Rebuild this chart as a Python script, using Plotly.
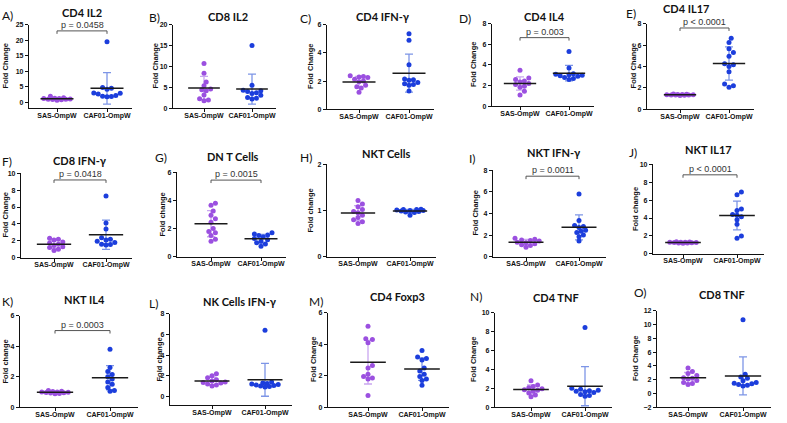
import numpy as np
import plotly.graph_objects as go

W, H = 787, 423
groups = ["SAS-OmpW", "CAF01-OmpW"]

letters = ["A)", "B)", "C)", "D)", "E)", "F)", "G)", "H)", "I)", "J)", "K)", "L)", "M)", "N)", "O)"]
titles = ["CD4 IL2", "CD8 IL2", "CD4 IFN-γ", "CD4 IL4", "CD4 IL17",
          "CD8 IFN-γ", "DN T Cells", "NKT Cells", "NKT IFN-γ", "NKT IL17",
          "NKT IL4", "NK Cells IFN-γ", "CD4 Foxp3", "CD4 TNF", "CD8 TNF"]
ylabels = ["Fold Change", "Fold Change", "Fold Change", "Fold Change", "Fold Change",
           "Fold Change", "Fold change", "Fold change", "Fold Change", "Fold change",
           "Fold change", "Fold change", "Fold Change", "Fold Change", "Fold Change"]
pvalues = ["p = 0.0458", None, None, "p = 0.003", "p < 0.0001",
           "p = 0.0418", "p = 0.0015", None, "p = 0.0011", "p < 0.0001",
           "p = 0.0003", None, None, None, None]

# y axis ranges and tick steps
y_ranges = [[-1.9, 25], [0, 20], [0, 6], [0, 8], [0, 8],
            [0, 10], [0, 6], [0, 2], [0, 8], [0, 10],
            [0, 6], [-0.86, 8], [0, 6], [0, 10], [-2, 12]]
y_dticks = [5, 5, 2, 2, 2, 2, 2, 1, 2, 2, 2, 2, 2, 2, 2]

# values (fold change)
a_sas = [2.0, 1.5, 1.3, 1.2, 1.2, 1.1, 1.0, 1.0, 0.9, 0.8, 0.7]
a_caf = [19.5, 4.8, 4.5, 4.2, 3.0, 2.9, 2.7, 2.2, 2.0, 1.9, 1.8]
b_sas = [10.7, 8.4, 6.3, 5.4, 4.6, 4.4, 4.2, 3.2, 2.3, 2.0, 1.8]
b_caf = [15.0, 5.5, 4.3, 4.2, 4.0, 3.7, 3.5, 3.1, 2.6, 2.4, 2.2]
c_sas = [2.38, 2.32, 2.28, 2.25, 2.12, 2.0, 1.95, 1.7, 1.6, 1.5, 1.2]
c_caf = [5.35, 4.9, 3.15, 2.15, 2.1, 2.05, 1.9, 1.8, 1.75, 1.7, 1.3]
d_sas = [3.5, 2.75, 2.6, 2.45, 2.35, 2.2, 2.1, 1.95, 1.85, 1.45, 1.1]
d_caf = [5.3, 3.7, 3.15, 3.1, 3.05, 3.0, 2.95, 2.9, 2.8, 2.7, 2.6]
e_sas = [1.42, 1.4, 1.38, 1.38, 1.36, 1.35, 1.34, 1.33, 1.32, 1.3, 1.28]
e_caf = [6.65, 6.25, 5.65, 5.3, 4.95, 4.25, 4.15, 4.0, 3.5, 2.35, 2.2, 2.05]
f_sas = [2.3, 2.2, 2.1, 1.85, 1.75, 1.6, 1.45, 1.3, 1.2, 1.0, 0.85]
f_caf = [7.3, 4.1, 3.4, 2.35, 2.2, 2.1, 1.95, 1.8, 1.6, 1.55, 1.5]
g_sas = [3.8, 3.65, 3.25, 2.95, 2.7, 2.45, 2.0, 1.8, 1.7, 1.5, 1.25, 1.1]
g_caf = [1.7, 1.62, 1.55, 1.5, 1.4, 1.3, 1.2, 1.1, 1.0, 0.9, 0.75]
h_sas = [1.22, 1.14, 1.08, 1.02, 0.98, 0.95, 0.9, 0.85, 0.8, 0.76, 0.72]
h_caf = [1.03, 1.02, 1.02, 1.01, 1.0, 1.0, 0.99, 0.98, 0.97, 0.96, 0.9]
i_sas = [1.7, 1.62, 1.55, 1.5, 1.45, 1.35, 1.3, 1.2, 1.1, 1.05, 0.88]
i_caf = [5.8, 3.35, 2.9, 2.8, 2.7, 2.45, 2.35, 2.25, 2.0, 1.85, 1.45]
j_sas = [1.35, 1.32, 1.3, 1.3, 1.28, 1.27, 1.25, 1.24, 1.22, 1.2, 1.18]
j_caf = [6.9, 6.6, 5.0, 4.85, 4.4, 4.3, 4.15, 3.8, 3.3, 2.0, 1.75]
k_sas = [1.1, 1.05, 1.03, 1.0, 1.0, 0.98, 0.97, 0.95, 0.93, 0.9, 0.88]
k_caf = [3.8, 2.6, 2.35, 2.15, 2.0, 1.85, 1.65, 1.5, 1.3, 1.1, 1.05]
l_sas = [2.2, 2.0, 1.8, 1.6, 1.5, 1.4, 1.35, 1.3, 1.2, 1.1, 1.0]
l_caf = [6.4, 1.4, 1.3, 1.25, 1.2, 1.15, 1.1, 1.05, 1.0, 0.95, 0.9]
m_sas = [5.15, 4.35, 4.3, 4.1, 2.65, 2.5, 2.1, 1.95, 1.85, 1.8, 0.75]
m_caf = [3.6, 3.2, 3.1, 3.0, 2.5, 2.3, 2.1, 1.95, 1.8, 1.7, 1.4]
n_sas = [2.8, 2.35, 2.2, 2.05, 1.95, 1.85, 1.8, 1.7, 1.5, 1.3, 1.1]
n_caf = [8.45, 2.0, 1.9, 1.8, 1.75, 1.7, 1.65, 1.55, 1.35, 1.25, 1.15]
o_sas = [3.7, 3.2, 2.9, 2.6, 2.3, 2.2, 2.1, 1.9, 1.6, 1.45, 1.3]
o_caf = [10.7, 2.8, 2.4, 2.2, 1.85, 1.6, 1.5, 1.4, 1.3, 1.2, 1.1]

sas_sets = [a_sas, b_sas, c_sas, d_sas, e_sas, f_sas, g_sas, h_sas, i_sas, j_sas, k_sas, l_sas, m_sas, n_sas, o_sas]
caf_sets = [a_caf, b_caf, c_caf, d_caf, e_caf, f_caf, g_caf, h_caf, i_caf, j_caf, k_caf, l_caf, m_caf, n_caf, o_caf]

# ---------- layout (pixel geometry) ----------
# y-axis x px, SAS tick px, CAF tick px, top-tick y px, x-axis y px
geom = [
    (29, 57, 107, 21, 106), (173, 204, 252, 21, 106), (327, 359, 409, 21, 107),
    (492, 520, 569, 20, 104), (647, 680, 729, 20, 107),
    (21, 54, 106, 172, 258), (177, 211, 261, 171, 257), (327, 358, 410, 163, 257),
    (493, 526, 579, 169, 257), (653, 683, 737, 163, 254),
    (20, 55, 110, 317, 410), (170, 212, 265, 315, 408), (328, 368, 422, 314, 410),
    (495, 531, 585, 314, 410), (657, 688, 743, 312, 410),
]
# title center (x, y) px, letter (x, y) px, y-title x px
title_pos = [(82, 9), (228, 13), (383, 13), (544, 13), (686, 5),
             (80, 159), (233, 155), (386, 152), (554, 151), (708, 148),
             (84, 300), (240, 303), (397, 297), (556, 298), (722, 295)]
letter_pos = [(0, 12), (147, 14), (298, 15), (457, 15), (624, 10),
              (0, 160), (153, 156), (298, 156), (467, 157), (627, 151),
              (0, 303), (147, 305), (307, 302), (468, 297), (632, 293)]
ytitle_x = [5, 155, 311, 474, 633, 5, 162, 311, 475, 635, 5, 160, 313, 473, 635]
bracket_lvl = [23, None, None, 6.65, 7.6, 9.2, 5.44, None, 7.45, 8.83, 5.03, None, None, None, None]

SAS_C, CAF_C = "#9b50e0", "#1c3edc"
SAS_E, CAF_E = "#c9a6f0", "#7d95e6"
TICKFONT = dict(family="Liberation Sans, Arial", size=7, color="#111", weight="bold")


def swarm(vals, ppu_y, ppu_x, d=4.4, maxoff=17.0):
    vals = np.asarray(vals, float)
    order = np.argsort(vals)
    steps = [0.0]
    k = 1
    while k * d / 2 <= maxoff:
        steps += [k * d / 2, -k * d / 2]
        k += 1
    placed = []
    offs = np.zeros(len(vals))
    for i in order:
        y = vals[i] * ppu_y
        best, bestcand, bestscore = None, 0.0, -1
        for s in steps:
            md = min([np.hypot(s - px, y - py) for px, py in placed], default=1e9)
            if md >= d:
                best = s
                break
            if md > bestscore:
                bestscore, bestcand = md, s
        if best is None:
            best = bestcand
        placed.append((best, y))
        offs[i] = best / ppu_x
    return offs


fig = go.Figure()
annotations = []
layout_axes = {}

for i in range(15):
    n = "" if i == 0 else str(i + 1)
    xa, ya = "x" + n, "y" + n
    x0, sx, cx, ytop, ybot = geom[i]
    s = cx - sx
    yr = y_ranges[i]
    dt = y_dticks[i]
    ppu_y = (ybot - ytop) / (yr[1] - yr[0])
    xr = [-(sx - x0) / s, 1.5]
    xd = [x0 / W, (sx + 1.5 * s) / W]
    yd = [1 - ybot / H, 1 - ytop / H]
    span = yr[1] - yr[0]

    for g, (vals, mc, ec) in enumerate([(sas_sets[i], SAS_C, SAS_E), (caf_sets[i], CAF_C, CAF_E)]):
        v = np.asarray(vals, float)
        mean, sd = v.mean(), v.std(ddof=1)
        fig.add_trace(go.Scatter(x=[g], y=[mean], mode="markers", xaxis=xa, yaxis=ya,
                                 marker=dict(size=1, opacity=0),
                                 error_y=dict(type="data", array=[sd], color=ec, thickness=1.3, width=4),
                                 hoverinfo="skip"))
        offs = swarm(v, ppu_y, s)
        fig.add_trace(go.Scatter(x=g + offs, y=v, mode="markers", xaxis=xa, yaxis=ya,
                                 marker=dict(size=5, color=mc, line=dict(width=0))))
        fig.add_trace(go.Scatter(x=[g - 0.33, g + 0.33], y=[mean, mean], mode="lines",
                                 xaxis=xa, yaxis=ya, line=dict(color="#1a1a1a", width=1.5),
                                 hoverinfo="skip"))

    if pvalues[i]:
        lvl = bracket_lvl[i]
        t = 3 / ppu_y
        fig.add_trace(go.Scatter(x=[0, 0, 1, 1], y=[lvl - t, lvl, lvl, lvl - t], mode="lines",
                                 xaxis=xa, yaxis=ya, line=dict(color="#555", width=1),
                                 hoverinfo="skip"))
        annotations.append(dict(x=0.5, y=lvl, xref=xa, yref=ya, text=pvalues[i], showarrow=False,
                                yanchor="bottom", yshift=-1,
                                font=dict(family="Liberation Sans, Arial", size=9, color="#333")))

    layout_axes["xaxis" + n] = dict(domain=xd, range=xr, anchor=ya, tickvals=[0, 1], ticktext=groups,
                                    showline=True, linecolor="#111", linewidth=1.3,
                                    ticks="outside", ticklen=3, tickwidth=1, tickcolor="#111",
                                    ticklabelstandoff=-3,
                                    tickfont=TICKFONT, showgrid=False, zeroline=False, fixedrange=True)
    layout_axes["yaxis" + n] = dict(domain=yd, range=[yr[0], yr[1] + span * 0.0005], anchor=xa,
                                    tick0=0, dtick=dt, showline=True, linecolor="#111", linewidth=1.3,
                                    ticks="outside", ticklen=3, tickwidth=1, tickcolor="#111",
                                    tickfont=TICKFONT, showgrid=False, zeroline=False, fixedrange=True)

    tx, ty = title_pos[i]
    annotations.append(dict(x=tx / W, y=1 - ty / H, xref="paper", yref="paper", text=titles[i],
                            showarrow=False, xanchor="center", yanchor="middle",
                            font=dict(family="Lato, Open Sans", size=11, color="#111", weight="bold")))
    lx, ly = letter_pos[i]
    annotations.append(dict(x=lx / W, y=1 - ly / H, xref="paper", yref="paper", text=letters[i],
                            showarrow=False, xanchor="left", yanchor="middle",
                            font=dict(family="Lato, Open Sans", size=12, color="#111")))
    annotations.append(dict(x=ytitle_x[i] / W, y=1 - ((ytop + ybot) / 2) / H, xref="paper", yref="paper",
                            text=ylabels[i], textangle=-90, showarrow=False,
                            xanchor="center", yanchor="middle",
                            font=dict(family="Liberation Sans, Arial", size=7.5, color="#111", weight="bold")))

fig.update_layout(width=W, height=H, margin=dict(l=0, r=0, t=0, b=0), autosize=False,
                  showlegend=False, plot_bgcolor="white", paper_bgcolor="white",
                  annotations=annotations, **layout_axes)
fig.write_html("out.html")
